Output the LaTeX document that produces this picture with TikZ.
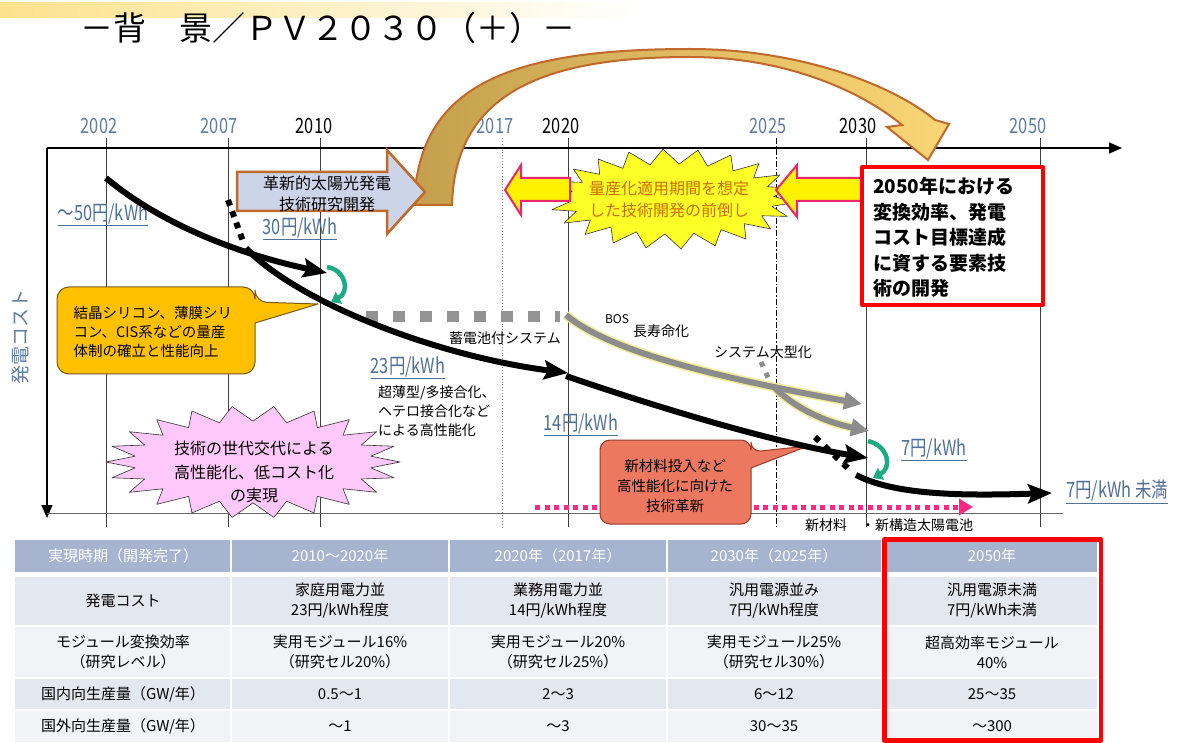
\documentclass[tikz,border=0pt]{standalone}
\usepackage{fontspec}
\setmainfont{Noto Sans CJK JP}
\newfontfamily\narrowfont[FakeStretch=0.78]{Noto Sans CJK JP}
\usetikzlibrary{arrows.meta}
\definecolor{axblue}{RGB}{95,125,160}
\definecolor{prblue}{RGB}{80,112,152}
\definecolor{goldC}{RGB}{255,192,0}
\definecolor{goldB}{RGB}{120,90,20}
\definecolor{pinkfill}{RGB}{255,200,250}
\definecolor{salmonC}{RGB}{236,120,96}
\definecolor{salmonB}{RGB}{150,60,40}
\definecolor{starY}{RGB}{255,255,40}
\definecolor{arrpink}{RGB}{235,40,110}
\definecolor{brownB}{RGB}{192,105,42}
\definecolor{boxblue}{RGB}{203,212,232}
\definecolor{tanC}{RGB}{196,160,78}
\definecolor{lightgold}{RGB}{250,214,118}
\definecolor{orangetext}{RGB}{205,110,0}
\definecolor{hdr}{RGB}{166,180,208}
\definecolor{rowa}{RGB}{227,231,239}
\definecolor{rowb}{RGB}{241,243,247}
\definecolor{tealg}{RGB}{30,170,130}
\definecolor{dotpink}{RGB}{255,40,130}
\definecolor{grayarr}{RGB}{140,140,140}
\definecolor{paley}{RGB}{240,235,150}
\definecolor{titley}{RGB}{252,226,140}
\begin{document}
\begin{tikzpicture}[x=1pt,y=-1pt,line join=round,
  yearlbl/.style={text=axblue,font=\narrowfont\fontsize{21}{21}\selectfont},
  yearblk/.style={text=black,font=\narrowfont\fontsize{21}{21}\selectfont},
  pricelbl/.style={text=prblue,font=\narrowfont\fontsize{21}{21}\selectfont,inner sep=1pt},
  smalltxt/.style={font=\fontsize{14}{19}\selectfont,inner sep=0pt},
  blkcurve/.style={line width=6pt,black},
  bigtip/.style={-{Stealth[length=24pt,width=19pt,inset=4pt]}},
  grid/.style={line width=1pt,black!75},
  tblcell/.style={font=\fontsize{15}{20}\selectfont,align=center},
  tblhead/.style={font=\fontsize{15}{20}\selectfont,align=center,text=white},
  greenarr/.style={tealg,line width=4.5pt,-{Triangle[length=9pt,width=13pt]}},
  grayouter/.style={paley,line width=9pt,shorten >=16pt},
  grayinner/.style={grayarr,line width=6pt,-{Triangle[length=18pt,width=17pt]}}]
\useasboundingbox (0,0) rectangle (1184,743);
\fill[white] (0,0) rectangle (1184,743);
% title
\shade[left color=titley,right color=white] (0,3) rectangle (640,18);
\node[font=\fontsize{33}{33}\selectfont] (title) at (328,28) {－背　景／ＰＶ２０３０（＋）－};
% grid lines
\foreach \gx in {106,228,320,568,866,1040} \draw[grid] (\gx,138) -- (\gx,527);
\draw[gray,line width=0.9pt,dotted] (502,138) -- (502,528);
\draw[black,line width=0.9pt,dash pattern=on 6pt off 2pt on 1.5pt off 2pt] (776,138) -- (776,528);
\coordinate (o) at (47,148);
\coordinate (xend) at (1122,148);
\coordinate (yend) at (47,518);
\draw[line width=1.4pt,-{Triangle[length=13pt,width=11pt]}] (o) -- (xend);
\draw[line width=1.4pt,-{Triangle[length=13pt,width=11pt]}] (o) -- (yend);
\draw[black!60,line width=0.9pt] (47,513) -- (1063,513);
% years
\node[yearlbl] (y2002) at (99,126) {2002};
\node[yearlbl] (y2007) at (219,126) {2007};
\node[yearblk] (y2010) at (314,126) {2010};
\node[yearlbl] (y2017) at (495,126) {2017};
\node[yearblk] (y2020) at (561,126) {2020};
\node[yearlbl] (y2025) at (768,126) {2025};
\node[yearblk] (y2030) at (858,126) {2030};
\node[yearlbl] (y2050) at (1028,126) {2050};
\node[rotate=90,text=axblue,font=\fontsize{19}{19}\selectfont] (ylab) at (20,337) {発電コスト};
% big curved arrow
\shadedraw[left color=tanC,right color=lightgold,draw=brownB,line width=2pt,line join=miter]
  (414,205) .. controls (418,90) and (500,49) .. (690,49)
  .. controls (800,49) and (893,85) .. (935,120)
  -- (949,124) -- (928,160) -- (887,127) -- (902,125)
  .. controls (865,94) and (790,57) .. (690,57)
  .. controls (540,57) and (455,95) .. (452,205) -- cycle;
% block arrow
\draw[fill=boxblue,draw=brownB,line width=2.5pt,line join=miter]
  (237,172) -- (387,172) -- (387,150) -- (425,192) -- (387,234) -- (387,211) -- (237,211) -- cycle;
\node[font=\fontsize{16}{21}\selectfont,align=center] (kakushin) at (327,194) {革新的太陽光発電\\技術研究開発};
% yellow star
\draw[fill=starY,draw=black!80,line width=0.6pt] plot[variable=\k,domain=0:44,samples=45]
  ({672+123*(1-0.17*mod(\k,2))*cos(\k*360/44+4)},{199+50*(1-0.3*mod(\k,2))*sin(\k*360/44+4)}) -- cycle;
\draw[fill=yellow,draw=arrpink,line width=2pt,line join=miter]
  (570,178) -- (521,178) -- (521,165) -- (505,190) -- (521,215) -- (521,201) -- (570,201) -- cycle;
\draw[fill=yellow,draw=arrpink,line width=2pt,line join=miter]
  (862,178) -- (797,178) -- (797,165) -- (776,190) -- (797,217) -- (797,201) -- (862,201) -- cycle;
\node[text=orangetext,font=\fontsize{16}{22}\selectfont,align=center] (ryosan) at (669,199) {量産化適用期間を想定\\した技術開発の前倒し};
% red box
\draw[red,line width=4pt,fill=white] (862,167) rectangle (1043,305);
\node[anchor=north west,align=left,inner sep=0pt,font=\bfseries\fontsize{19}{25.5}\selectfont] (goal) at (873,177)
  {2050年における\\変換効率、発電\\コスト目標達成\\に資する要素技\\術の開発};
% yellow callout
\draw[fill=goldC,draw=goldB,line width=1pt]
  (57,330) [rounded corners=12pt] -- (57,287) -- (255,287) -- (255,302) [sharp corners] -- (318,304) -- (255,323) -- (255,350)
  [rounded corners=12pt] -- (255,374) -- (57,374) -- cycle;
\node[anchor=west,align=left,font=\fontsize{14.5}{19}\selectfont] (kessho) at (70,332) {結晶シリコン、薄膜シリ\\コン、CIS系などの量産\\体制の確立と性能向上};
% pink star
\draw[fill=pinkfill,draw=black!80,line width=0.6pt] plot[variable=\k,domain=0:44,samples=45]
  ({253+147*(1-0.19*mod(\k,2))*cos(\k*360/44)},{462+56*(1-0.27*mod(\k,2))*sin(\k*360/44)}) -- cycle;
\node[font=\fontsize{16}{23.5}\selectfont,align=center] (sedai) at (254,472) {技術の世代交代による\\高性能化、低コスト化\\の実現};
% gray dashed storage line
\draw[gray!85,line width=11pt,dash pattern=on 12pt off 15pt] (366,317) -- (560,317);
% pink dotted arrow
\coordinate (pd1) at (535,507);
\coordinate (pd2) at (973,507);
\draw[dotpink,line width=5pt,dash pattern=on 5pt off 4.5pt,-{Triangle[length=14pt,width=16pt]}] (pd1) -- (pd2);
% salmon callout
\draw[fill=salmonC,draw=salmonB,line width=1pt]
  (600,480) [rounded corners=10pt] -- (600,440) -- (751,440) -- (751,452) [sharp corners] -- (808,446) -- (751,468) -- (751,490)
  [rounded corners=10pt] -- (751,524) -- (600,524) -- cycle;
\node[font=\fontsize{14.5}{20}\selectfont,align=center] (shinzai) at (675,486) {新材料投入など\\高性能化に向けた\\技術革新};
% price labels
\node[pricelbl] (p50) at (103,215) {\underline{～50円/kWh}};
\node[pricelbl] (p30) at (300,229) {\underline{30円/kWh}};
\node[pricelbl] (p23) at (408,368) {\underline{23円/kWh}};
\node[pricelbl] (p14) at (581,425) {\underline{14円/kWh}};
\node[pricelbl] (p7) at (934,450) {\underline{7円/kWh}};
\node[pricelbl] (p7m) at (1117,492) {\underline{7円/kWh 未満}};
% small texts
\node[smalltxt,anchor=west,align=left] (hetero) at (378,411) {超薄型/多接合化、\\ヘテロ接合化など\\による高性能化};
\node[smalltxt] (chikuden) at (505,338) {蓄電池付システム};
\node[font=\fontsize{12}{12}\selectfont,inner sep=0pt] (bos) at (617,319) {BOS};
\node[smalltxt] (choju) at (661,331) {長寿命化};
\node[smalltxt] (ogata) at (763,352) {システム大型化};
\node[smalltxt] (shinkozo) at (889,525) {新材料　・新構造太陽電池};
% gray arrows
\coordinate (g0) at (566,315);
\coordinate (g1) at (862,404);
\coordinate (gb) at (775,388);
\coordinate (g2) at (869,431);
\draw[grayouter] (g0) .. controls (610,352) and (720,378) .. (g1);
\draw[grayouter] (gb) .. controls (795,408) and (825,422) .. (g2);
\draw[grayinner] (g0) .. controls (610,352) and (720,378) .. (g1);
\draw[grayinner] (gb) .. controls (795,408) and (825,422) .. (g2);
\draw[grayarr,line width=5pt,dash pattern=on 5pt off 7pt] (761,362) -- (770,382);
% black curves
\coordinate (a0) at (106,178);
\coordinate (a1) at (327,273);
\coordinate (b0) at (228,200);
\coordinate (b1) at (244,244);
\coordinate (c0) at (246,248);
\coordinate (c1) at (568,373);
\coordinate (d0) at (566,376);
\coordinate (d1) at (868,458);
\coordinate (e0) at (815,437);
\coordinate (e1) at (852,472);
\coordinate (f0) at (856,475);
\coordinate (f1) at (1052,493);
\draw[blkcurve,bigtip] (a0) .. controls (150,215) and (220,250) .. (a1);
\draw[blkcurve,dash pattern=on 6pt off 6pt] (b0) -- (b1);
\draw[blkcurve,bigtip] (c0) .. controls (295,300) and (430,355) .. (c1);
\draw[blkcurve,bigtip] (d0) .. controls (630,398) and (760,440) .. (d1);
\draw[blkcurve,dash pattern=on 6pt off 7pt] (e0) -- (e1);
\draw[blkcurve,bigtip] (f0) .. controls (895,495) and (960,496) .. (f1);
% green arrows
\coordinate (ga0) at (327,267);
\coordinate (ga1) at (331,302);
\coordinate (gc0) at (868,441);
\coordinate (gc1) at (873,478);
\draw[greenarr] (ga0) .. controls (346,270) and (350,292) .. (ga1);
\draw[greenarr] (gc0) .. controls (889,446) and (892,468) .. (gc1);
% table
\fill[hdr] (15,540) rectangle (1097,572);
\fill[rowa] (15,577) rectangle (1097,626);
\fill[rowb] (15,626) rectangle (1097,678);
\fill[rowa] (15,678) rectangle (1097,710);
\fill[rowb] (15,710) rectangle (1097,742);
\foreach \ty in {626,678,710} \draw[white,line width=2pt] (15,\ty) -- (1097,\ty);
\foreach \tx in {231,449,667,882} \draw[white,line width=2pt] (\tx,540) -- (\tx,743);
\node[tblhead] (h1) at (123,556) {実現時期（開発完了）};
\node[tblhead] (h2) at (340,556) {2010～2020年};
\node[tblhead] (h3) at (558,556) {2020年（2017年）};
\node[tblhead] (h4) at (774,556) {2030年（2025年）};
\node[tblhead] (h5) at (992,556) {2050年};
\node[tblcell] (r21) at (123,601) {発電コスト};
\node[tblcell] (r22) at (340,601) {家庭用電力並\\23円/kWh程度};
\node[tblcell] (r23) at (558,601) {業務用電力並\\14円/kWh程度};
\node[tblcell] (r24) at (774,601) {汎用電源並み\\7円/kWh程度};
\node[tblcell] (r25) at (992,601) {汎用電源未満\\7円/kWh未満};
\node[tblcell] (r31) at (123,652) {モジュール変換効率\\（研究レベル）};
\node[tblcell] (r32) at (340,652) {実用モジュール16\%\\（研究セル20\%）};
\node[tblcell] (r33) at (558,652) {実用モジュール20\%\\（研究セル25\%）};
\node[tblcell] (r34) at (774,652) {実用モジュール25\%\\（研究セル30\%）};
\node[tblcell] (r35) at (992,652) {超高効率モジュール\\40\%};
\node[tblcell] (r41) at (123,694) {国内向生産量（GW/年）};
\node[tblcell] (r42) at (340,694) {0.5～1};
\node[tblcell] (r43) at (558,694) {2～3};
\node[tblcell] (r44) at (774,694) {6～12};
\node[tblcell] (r45) at (992,694) {25～35};
\node[tblcell] (r51) at (123,726) {国外向生産量（GW/年）};
\node[tblcell] (r52) at (340,726) {～1};
\node[tblcell] (r53) at (558,726) {～3};
\node[tblcell] (r54) at (774,726) {30～35};
\node[tblcell] (r55) at (992,726) {～300};
\draw[red,line width=4.5pt] (884.5,539.5) rectangle (1101,740.5);
\end{tikzpicture}
\end{document}
